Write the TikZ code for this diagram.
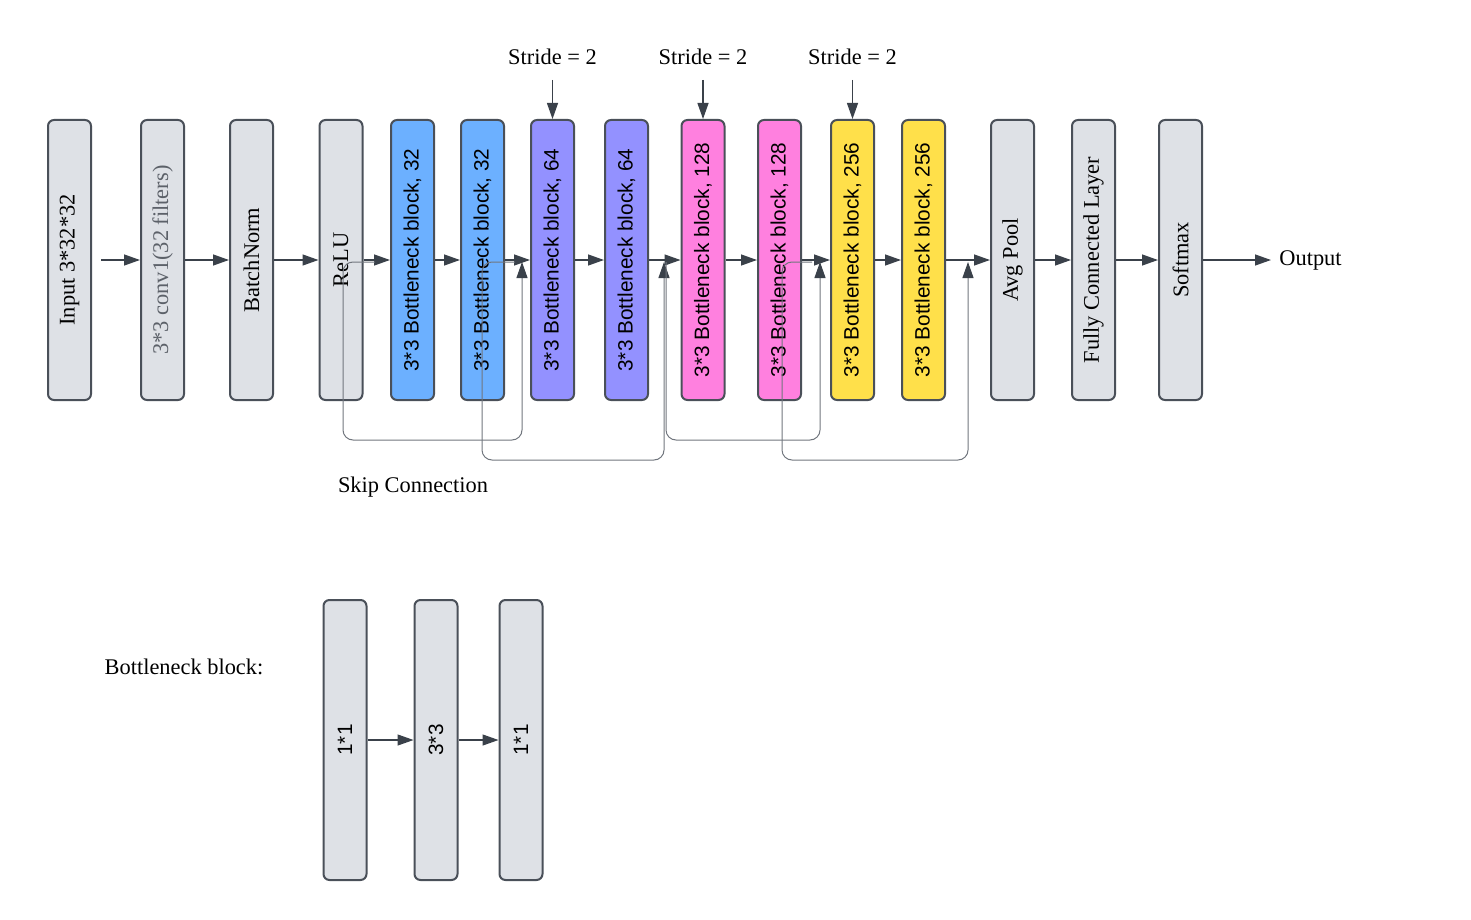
\documentclass[tikz,border=0pt]{standalone}
\usepackage{fontspec}
\setmainfont{Liberation Serif}
\setsansfont{Liberation Sans}
\usetikzlibrary{arrows.meta}

\definecolor{boxgray}{HTML}{DEE1E6}
\definecolor{edgegray}{HTML}{4A5059}
\definecolor{convtext}{HTML}{5C6169}
\definecolor{bblue}{HTML}{6CB0FF}
\definecolor{bpurple}{HTML}{9391FF}
\definecolor{bpink}{HTML}{FF80DF}
\definecolor{byellow}{HTML}{FFE04A}
\definecolor{arrowgray}{HTML}{3A414A}
\definecolor{skipgray}{HTML}{71767E}

\begin{document}
\begin{tikzpicture}[x=0.5pt,y=-0.5pt]
\tikzstyle{block} = [rectangle, draw=edgegray, line width=1pt, fill=boxgray,
rounded corners=3pt, rotate=90, minimum width=140pt, minimum height=21.5pt,
inner sep=0pt, font=\fontsize{11.2}{13}\selectfont]
\tikzstyle{bneck} = [block, font=\sffamily\fontsize{10.4}{12}\selectfont]
\tikzstyle{line} = [draw, line width=0.65pt, arrowgray, -{Triangle[length=8pt,width=5.5pt]}]
\tikzstyle{skip} = [draw, line width=0.5pt, skipgray, rounded corners=5pt,
-{Triangle[length=8pt,width=5.5pt,color=arrowgray]}]
\tikzstyle{lbl} = [font=\fontsize{11.2}{13}\selectfont, inner sep=4pt]
\useasboundingbox (0,0) rectangle (1471,920);

% main row
\node [block] (inp) at (69.5,260) {Input 3*32*32};
\node [block, text=convtext] (conv) at (162.5,260) {3*3 conv1(32 filters)};
\node [block] (bn) at (251.5,260) {BatchNorm};
\node [block] (relu) at (341,260) {ReLU};
\node [bneck, fill=bblue] (bb1) at (412.5,260) {3*3 Bottleneck block, 32};
\node [bneck, fill=bblue] (bb2) at (482.5,260) {3*3 Bottleneck block, 32};
\node [bneck, fill=bpurple] (bb3) at (552.5,260) {3*3 Bottleneck block, 64};
\node [bneck, fill=bpurple] (bb4) at (626.5,260) {3*3 Bottleneck block, 64};
\node [bneck, fill=bpink] (bb5) at (703,260) {3*3 Bottleneck block, 128};
\node [bneck, fill=bpink] (bb6) at (779.5,260) {3*3 Bottleneck block, 128};
\node [bneck, fill=byellow] (bb7) at (852.5,260) {3*3 Bottleneck block, 256};
\node [bneck, fill=byellow] (bb8) at (923.5,260) {3*3 Bottleneck block, 256};
\node [block] (pool) at (1012.5,260) {Avg Pool};
\node [block] (fc) at (1093.5,260) {Fully Connected Layer};
\node [block] (soft) at (1180.5,260) {Softmax};
\node [lbl, anchor=west] (out) at (1271,260) {Output};

% stride labels
\node [lbl] (str1) at (552.5,57) {Stride = 2};
\node [lbl] (str2) at (703,57) {Stride = 2};
\node [lbl] (str3) at (852.5,57) {Stride = 2};
\coordinate (st1) at (552.5,80);
\coordinate (st2) at (703,80);
\coordinate (st3) at (852.5,80);

% skip ends
\coordinate (s1) at (375,262);
\coordinate (e1) at (522,262);
\coordinate (s2) at (515,262);
\coordinate (e2) at (664,262);
\coordinate (s3) at (666,262);
\coordinate (e3) at (820,262);
\coordinate (s4) at (812,262);
\coordinate (e4) at (968,262);

\node [lbl] (skiplbl) at (413,487) {Skip Connection};

% bottleneck detail
\node [lbl] (bblbl) at (184,667) {Bottleneck block:};
\node [bneck] (k1) at (345,740) {1*1};
\node [bneck] (k2) at (436,740) {3*3};
\node [bneck] (k3) at (521,740) {1*1};

\draw [line, shorten <=4.5pt] (inp) -- (conv);
\draw [line] (conv) -- (bn);
\draw [line] (bn) -- (relu);
\draw [line] (relu) -- (bb1);
\draw [line] (bb1) -- (bb2);
\draw [line] (bb2) -- (bb3);
\draw [line] (bb3) -- (bb4);
\draw [line] (bb4) -- (bb5);
\draw [line] (bb5) -- (bb6);
\draw [line] (bb6) -- (bb7);
\draw [line] (bb7) -- (bb8);
\draw [line] (bb8) -- (pool);
\draw [line] (pool) -- (fc);
\draw [line] (fc) -- (soft);
\draw [line] (soft) -- (out.west);
\draw [line] (st1) -- (bb3);
\draw [line] (st2) -- (bb5);
\draw [line] (st3) -- (bb7);

\draw [skip] (s1) -- (343,262) -- (343,440) -| (e1);
\draw [skip] (s2) -- (482,262) -- (482,460) -| (e2);
\draw [skip] (s3) -- (666,440) -| (e3);
\draw [skip] (s4) -- (782,262) -- (782,460) -| (e4);

\draw [line] (k1) -- (k2);
\draw [line] (k2) -- (k3);
\end{tikzpicture}
\end{document}
